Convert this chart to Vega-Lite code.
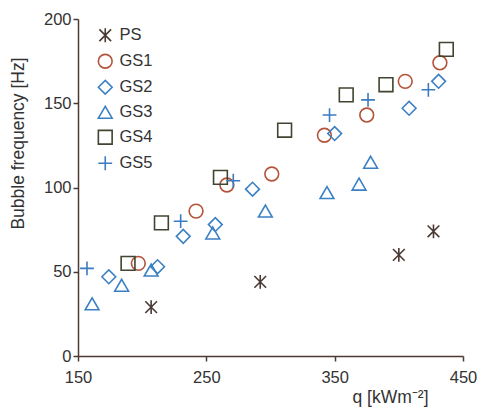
{
  "$schema": "https://vega.github.io/schema/vega-lite/v6.json",
  "width": 385,
  "height": 337,
  "autosize": {"type": "none"},
  "padding": {"left": 78, "top": 19, "right": 18, "bottom": 53},
  "background": "white",
  "config": {
    "view": {"stroke": null},
    "font": "Liberation Sans",
    "axis": {"grid": false, "labelFlush": false, "domainColor": "#4d3b33", "tickColor": "#4d3b33", "domainWidth": 1.5, "tickWidth": 1.5, "tickSize": 5, "labelFontSize": 16.5, "labelColor": "#333333", "titleFontSize": 17.5, "titleFontWeight": "normal", "titleColor": "#333333", "labelPadding": 2}
  },
  "data": {"values": [
    {"s": "PS", "q": 207, "f": 29},
    {"s": "PS", "q": 292, "f": 44},
    {"s": "PS", "q": 400, "f": 60},
    {"s": "PS", "q": 427, "f": 74},
    {"s": "GS1", "q": 197, "f": 55},
    {"s": "GS1", "q": 242, "f": 86},
    {"s": "GS1", "q": 266, "f": 101.5},
    {"s": "GS1", "q": 301, "f": 108},
    {"s": "GS1", "q": 342, "f": 131},
    {"s": "GS1", "q": 375, "f": 143},
    {"s": "GS1", "q": 405, "f": 163},
    {"s": "GS1", "q": 432, "f": 174},
    {"s": "GS2", "q": 174, "f": 47},
    {"s": "GS2", "q": 212, "f": 53},
    {"s": "GS2", "q": 232, "f": 71},
    {"s": "GS2", "q": 257, "f": 78},
    {"s": "GS2", "q": 286, "f": 99},
    {"s": "GS2", "q": 350, "f": 132},
    {"s": "GS2", "q": 408, "f": 147},
    {"s": "GS2", "q": 431, "f": 163},
    {"s": "GS3", "q": 161, "f": 31},
    {"s": "GS3", "q": 184, "f": 42},
    {"s": "GS3", "q": 207, "f": 51},
    {"s": "GS3", "q": 255, "f": 73},
    {"s": "GS3", "q": 296, "f": 86},
    {"s": "GS3", "q": 344, "f": 97},
    {"s": "GS3", "q": 369, "f": 102},
    {"s": "GS3", "q": 378, "f": 115},
    {"s": "GS4", "q": 189, "f": 55},
    {"s": "GS4", "q": 215, "f": 79},
    {"s": "GS4", "q": 261, "f": 106},
    {"s": "GS4", "q": 311, "f": 134},
    {"s": "GS4", "q": 359, "f": 155},
    {"s": "GS4", "q": 390, "f": 161},
    {"s": "GS4", "q": 437, "f": 182},
    {"s": "GS5", "q": 157, "f": 52},
    {"s": "GS5", "q": 230, "f": 80},
    {"s": "GS5", "q": 271, "f": 104},
    {"s": "GS5", "q": 346, "f": 143},
    {"s": "GS5", "q": 376, "f": 152},
    {"s": "GS5", "q": 423, "f": 158}
  ]},
  "mark": {"type": "point", "filled": false, "strokeWidth": 1.6, "size": 190, "opacity": 1},
  "encoding": {
    "x": {"field": "q", "type": "quantitative", "scale": {"domain": [150, 450], "nice": false, "zero": false},
      "axis": {"values": [150, 250, 350, 450], "labelPadding": 8, "title": "q [kWm⁻²]", "titleX": 312, "titleY": 46, "titleBaseline": "alphabetic", "titleAlign": "center", "titleAnchor": null}},
    "y": {"field": "f", "type": "quantitative", "scale": {"domain": [0, 200], "nice": false},
      "axis": {"values": [0, 50, 100, 150, 200], "title": "Bubble frequency [Hz]", "titleX": -60, "titleY": 124, "titleAngle": -90, "titleAlign": "center", "titleBaseline": "middle", "titleAnchor": null}},
    "shape": {"field": "s", "type": "nominal",
      "scale": {"domain": ["PS", "GS1", "GS2", "GS3", "GS4", "GS5"],
        "range": ["M0,-1V1M-0.85,-0.85L0.85,0.85M-0.85,0.85L0.85,-0.85", "circle", "diamond", "triangle-up", "square", "M-1,0H1M0,-1V1"]},
      "legend": {"title": null, "orient": "none", "legendX": 19, "legendY": 8, "labelFontSize": 16.5, "labelColor": "#333333", "symbolSize": 190, "symbolStrokeWidth": 1.6, "rowPadding": 5, "labelOffset": 6, "padding": 0, "symbolFillColor": "transparent"}},
    "color": {"field": "s", "type": "nominal",
      "scale": {"domain": ["PS", "GS1", "GS2", "GS3", "GS4", "GS5"],
        "range": ["#4b3a33", "#b4533a", "#3b80c3", "#3b80c3", "#3f4530", "#3b7bc2"]}}
  }
}
